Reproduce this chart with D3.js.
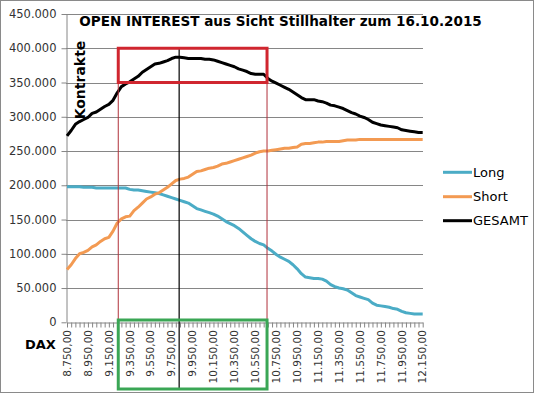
<!DOCTYPE html>
<html>
<head>
<meta charset="utf-8">
<script src="https://cdn.jsdelivr.net/npm/d3@7"></script>
<style>
  body { margin: 0; background: #fff; }
  text { font-family: "DejaVu Sans", sans-serif; }
</style>
</head>
<body>
<div id="chart"></div>
<script>
// DAX strikes (categories)
var strikes = [8750, 8790, 8830, 8870, 8910, 8950, 8990, 9030, 9070, 9110,
    9150, 9190, 9230, 9270, 9310, 9350, 9390, 9430, 9470, 9510,
    9550, 9590, 9630, 9670, 9710, 9750, 9790, 9830, 9870, 9910,
    9950, 9990, 10030, 10070, 10110, 10150, 10190, 10230, 10270, 10310,
    10350, 10390, 10430, 10470, 10510, 10550, 10590, 10630, 10670, 10710,
    10750, 10790, 10830, 10870, 10910, 10950, 10990, 11030, 11070, 11110,
    11150, 11190, 11230, 11270, 11310, 11350, 11390, 11430, 11470, 11510,
    11550, 11590, 11630, 11670, 11710, 11750, 11790, 11830, 11870, 11910,
    11950, 11990, 12030, 12070, 12110, 12150];

// open interest in thousand contracts
var longOI = [198, 198, 198, 198, 197, 197, 197, 196, 196, 196,
    196, 196, 196, 196, 196, 194, 193, 193, 192, 191,
    190, 189, 188, 186, 184, 182, 180, 178, 176, 174,
    170, 166, 164, 162, 160, 158, 155, 151, 147, 144,
    141, 137, 132, 127, 122, 118, 115, 113, 108, 104,
    99, 95, 92, 89, 84, 78, 71, 66, 65, 64,
    64, 63, 60, 55, 52, 50, 49, 47, 43, 39,
    37, 35, 33, 28, 25, 24, 23, 22, 20, 19,
    16, 14, 13, 12, 12, 12];

var shortOI = [77, 84, 93, 100, 102, 105, 110, 113, 118, 122,
    124, 133, 145, 151, 154, 155, 163, 168, 174, 180,
    183, 187, 189, 193, 197, 202, 207, 209, 210, 212,
    216, 220, 221, 223, 225, 226, 228, 231, 232, 234,
    236, 238, 240, 242, 244, 247, 249, 250, 250, 251,
    252, 253, 254, 254, 255, 256, 260, 261, 261, 262,
    263, 263, 264, 264, 264, 264, 265, 266, 266, 266,
    267, 267, 267, 267, 267, 267, 267, 267, 267, 267,
    267, 267, 267, 267, 267, 267];

var totalOI = [272, 280, 289, 293, 296, 299, 305, 307, 311, 315,
    318, 324, 335, 344, 348, 351, 355, 359, 365, 369,
    373, 377, 378, 380, 382, 385, 387, 387, 386, 385,
    385, 385, 385, 384, 384, 383, 381, 379, 377, 375,
    373, 370, 368, 366, 363, 362, 362, 362, 356, 352,
    349, 346, 343, 340, 336, 332, 328, 325, 325, 325,
    323, 322, 320, 317, 316, 314, 312, 309, 306, 304,
    301, 299, 296, 292, 290, 288, 287, 286, 285, 284,
    281, 280, 279, 278, 277, 277];

var xTickStrikes = [8750, 8950, 9150, 9350, 9550, 9750, 9950, 10150, 10350,
    10550, 10750, 10950, 11150, 11350, 11550, 11750, 11950, 12150];
var yTicks = [0, 50000, 100000, 150000, 200000, 250000, 300000, 350000, 400000, 450000];

var seriesNames = ["Long", "Short", "GESAMT"];
var seriesColors = ["#4bacc6", "#f39a52", "#000000"];
var seriesData = [longOI, shortOI, totalOI];

// annotation marks (strike / contracts)
var boxFrom = 9240, boxTo = 10662, markStrike = 9822;
var boxLow = 350000, boxHigh = 400000;

var W = 541, H = 400;
var de = d3.formatLocale({ decimal: ",", thousands: ".", grouping: [3], currency: ["", "€"] });
var fmtY = de.format(",.0f");
var fmtX = de.format(",.2f");

var svg = d3.select("#chart").append("svg")
    .attr("width", W)
    .attr("height", H);

// chart border
svg.append("rect")
    .attr("x", 0.5).attr("y", 0.5)
    .attr("width", 533).attr("height", 392)
    .attr("fill", "#fff")
    .attr("stroke", "#8a8a8a");

var x = d3.scaleLinear().domain([8750, 12150]).range([67, 422.7]);
var y = d3.scaleLinear().domain([0, 450000]).range([322.3, 14]);

// gridlines
svg.append("g").selectAll("line")
    .data(yTicks.slice(1))
    .enter().append("line")
    .attr("x1", 66).attr("x2", 423)
    .attr("y1", d => Math.round(y(d)) + 0.5)
    .attr("y2", d => Math.round(y(d)) + 0.5)
    .attr("stroke", "#868686");

// y axis
var yAxis = svg.append("g")
    .attr("transform", "translate(66.5,0)")
    .call(d3.axisLeft(y).tickValues(yTicks).tickSize(5).tickSizeOuter(0).tickPadding(5).tickFormat(fmtY));
yAxis.selectAll("path, line").attr("stroke", "#868686");
yAxis.selectAll("text").attr("font-size", "11.5px").attr("fill", "#333")
    .attr("font-family", "DejaVu Sans");

// x axis, a tick per strike
var xAxis = svg.append("g")
    .attr("transform", "translate(0," + (Math.round(y(0)) + 0.5) + ")")
    .call(d3.axisBottom(x).tickValues(strikes).tickSize(5).tickSizeOuter(0).tickFormat(""));
xAxis.selectAll("path, line").attr("stroke", "#868686");

// x labels, rotated
svg.append("g").selectAll("text")
    .data(xTickStrikes)
    .enter().append("text")
    .attr("transform", d => "translate(" + x(d) + ",330) rotate(-90)")
    .attr("text-anchor", "end")
    .attr("dy", "0.36em")
    .attr("font-size", "10.5px")
    .attr("fill", "#333")
    .text(d => fmtX(d));

// series lines
var line = d3.line()
    .x((d, i) => x(strikes[i]))
    .y(d => y(d * 1000));

svg.append("g").selectAll("path")
    .data(seriesData)
    .enter().append("path")
    .attr("d", d => line(d))
    .attr("fill", "none")
    .attr("stroke", (d, i) => seriesColors[i])
    .attr("stroke-width", 3)
    .attr("stroke-linejoin", "round");

// annotations
svg.selectAll(".redv")
    .data([boxFrom, boxTo])
    .enter().append("line")
    .attr("x1", d => x(d)).attr("x2", d => x(d))
    .attr("y1", y(boxLow)).attr("y2", y(0))
    .attr("stroke", "#b0303a")
    .attr("stroke-width", 1);

svg.append("line")
    .attr("x1", x(markStrike)).attr("x2", x(markStrike))
    .attr("y1", y(boxHigh)).attr("y2", 389)
    .attr("stroke", "#000")
    .attr("stroke-width", 1.2);

svg.append("rect")
    .attr("x", x(boxFrom)).attr("y", y(boxHigh))
    .attr("width", x(boxTo) - x(boxFrom))
    .attr("height", y(boxLow) - y(boxHigh))
    .attr("fill", "none")
    .attr("stroke", "#d0262f")
    .attr("stroke-width", 3);

svg.append("rect")
    .attr("x", x(boxFrom)).attr("y", 320)
    .attr("width", x(boxTo) - x(boxFrom))
    .attr("height", 69)
    .attr("fill", "none")
    .attr("stroke", "#3aa655")
    .attr("stroke-width", 3);

// title
var title = svg.append("text")
    .attr("x", 280.5).attr("y", 26)
    .attr("text-anchor", "middle")
    .attr("font-family", "Lato")
    .attr("font-weight", "bold")
    .attr("font-size", "16px")
    .attr("fill", "#000")
    .text("OPEN INTEREST aus Sicht Stillhalter zum 16.10.2015");
var tl = title.node().getComputedTextLength();
title.attr("font-size", (16 * 403 / tl).toFixed(2) + "px");

// axis titles
svg.append("text")
    .attr("transform", "translate(85,80) rotate(-90)")
    .attr("text-anchor", "middle")
    .attr("font-family", "Lato")
    .attr("font-weight", "bold")
    .attr("font-size", "14px")
    .text("Kontrakte");

svg.append("text")
    .attr("x", 25).attr("y", 349)
    .attr("font-family", "Lato")
    .attr("font-weight", "bold")
    .attr("font-size", "13px")
    .text("DAX");

// legend
var legend = svg.append("g").selectAll("g")
    .data(seriesNames)
    .enter().append("g")
    .attr("transform", (d, i) => "translate(443," + [172.3, 196.7, 220.7][i] + ")");

legend.append("line")
    .attr("x1", 0).attr("x2", 29)
    .attr("stroke", (d, i) => seriesColors[i])
    .attr("stroke-width", 3);

legend.append("text")
    .attr("x", 30)
    .attr("dy", "0.35em")
    .attr("font-family", "Lato")
    .attr("font-size", "13px")
    .text(d => d);
</script>
</body>
</html>
